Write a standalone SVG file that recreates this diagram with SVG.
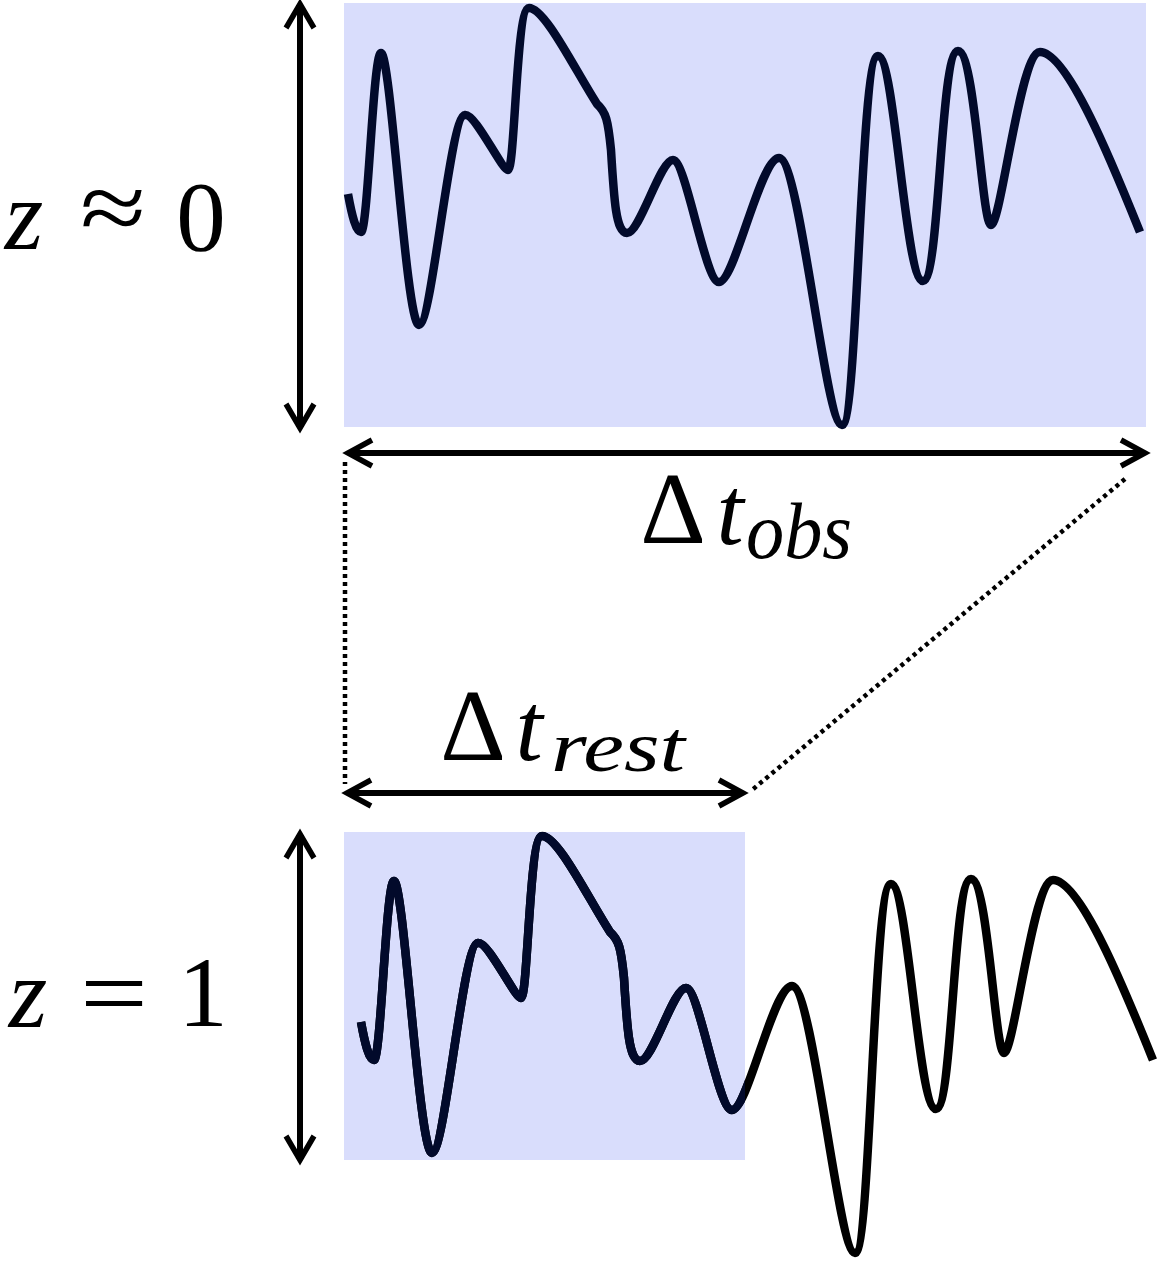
<svg xmlns="http://www.w3.org/2000/svg" xmlns:xlink="http://www.w3.org/1999/xlink" width="1162" height="1261" viewBox="0 0 1162 1261">
  <style>
    .box { fill: #d9ddfc; }
    .curve { fill: none; stroke-width: 8.5; stroke-linejoin: round; stroke-linecap: butt; }
    .it { font-style: italic; }
  </style>
  <defs>
    <path id="wave" d="M348,194 C352,216 356,232 361,232 C368,232 373,53 381,53 C391,53 406,325 419,325 C432,325 450,115 465,115 C475,113 502,170 508,170 C515,170 516,8 529,8 C545,8 575,70 597,104 C606,112 608,120 611,150 C614,200 616,233 627,233 C640,233 660,160 673,160 C686,160 705,282 719,282 C735,282 760,158 779,158 C800,158 825,425 842,425 C858,425 860,56 878,56 C895,56 905,281 923,281 C940,281 940,51 958,51 C975,51 982,225 991,225 C1001,225 1020,52 1040,52 C1068,52 1115,170 1140,232"/>
    <clipPath id="clipBottomBox">
      <rect x="344" y="832" width="401" height="328"/>
    </clipPath>
  </defs>

  <g id="box-top">
    <rect class="box" x="344" y="3" width="802" height="424"/>
  </g>
  <g id="curve-top">
    <use xlink:href="#wave" class="curve" stroke="#020a2b"/>
  </g>

  <g id="box-bottom">
    <rect class="box" x="344" y="832" width="401" height="328"/>
  </g>
  <g id="curve-bottom">
    <use xlink:href="#wave" class="curve" stroke="#000" transform="translate(13,828)"/>
    <g clip-path="url(#clipBottomBox)">
      <use xlink:href="#wave" class="curve" stroke="#020a2b" transform="translate(13,828)"/>
    </g>
  </g>

  <g id="connectors" fill="none" stroke="#000">
    <g stroke-width="6">
      <path d="M300,6 V425"/>
      <path d="M300,836 V1157"/>
      <path d="M350,453 H1143"/>
      <path d="M349,793 H741"/>
    </g>
    <g stroke-width="5.5">
      <path d="M286,28 L300,4 L314,28 M286,404 L300,428 L314,404"/>
      <path d="M286,858 L300,834 L314,858 M286,1136 L300,1160 L314,1136"/>
      <path d="M372,440 L348,453 L372,466 M1121,440 L1145,453 L1121,466"/>
      <path d="M371,780 L347,793 L371,806 M719,780 L743,793 L719,806"/>
    </g>
    <g stroke-width="4.5" stroke-dasharray="4 4">
      <path d="M345,462 V784"/>
      <path d="M1125,479 L752,790"/>
    </g>
  </g>

  <g font-family="Liberation Serif, DejaVu Serif, serif" fill="#000">
    <g id="label-z0">
      <text class="it" x="24" y="249" font-size="99" text-anchor="middle">z</text>
      <text x="80" y="241" font-size="99" textLength="66" lengthAdjust="spacingAndGlyphs">≈</text>
      <text x="201" y="250" font-size="99" text-anchor="middle">0</text>
    </g>
    <g id="label-z1">
      <text class="it" x="28" y="1027" font-size="99" text-anchor="middle">z</text>
      <text x="80" y="1027" font-size="99" textLength="68" lengthAdjust="spacingAndGlyphs">=</text>
      <text x="203" y="1026" font-size="99" text-anchor="middle">1</text>
    </g>
    <g id="label-tobs">
      <text x="673" y="543" font-size="102" text-anchor="middle">Δ</text>
      <text class="it" x="730" y="544" font-size="98" text-anchor="middle">t</text>
      <text class="it" x="746" y="558" font-size="80" textLength="106" lengthAdjust="spacingAndGlyphs">obs</text>
    </g>
    <g id="label-trest">
      <text x="473" y="760" font-size="102" text-anchor="middle">Δ</text>
      <text class="it" x="529" y="760" font-size="98" text-anchor="middle">t</text>
      <text class="it" x="551" y="771" font-size="72" textLength="134" lengthAdjust="spacingAndGlyphs">rest</text>
    </g>
  </g>
</svg>
